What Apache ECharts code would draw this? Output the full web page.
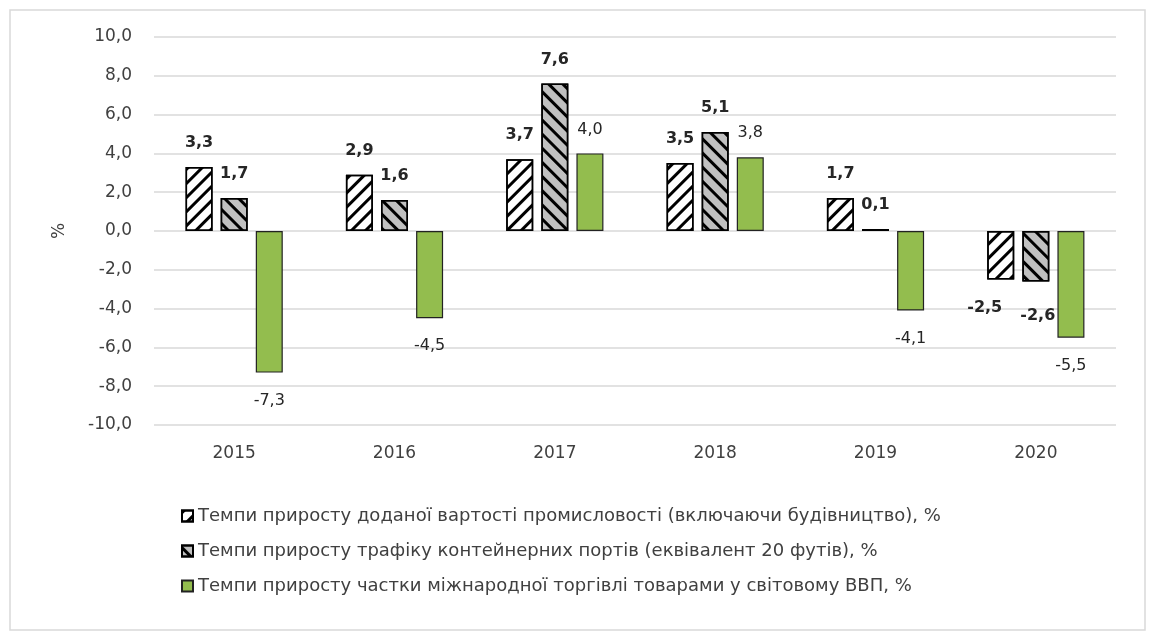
<!DOCTYPE html>
<html>
<head>
<meta charset="utf-8">
<script src="https://cdn.jsdelivr.net/npm/echarts@6/dist/echarts.min.js"></script>
<style>
  html, body { margin: 0; padding: 0; background: #fff; }
  #chart { width: 1150px; height: 634px; }
</style>
</head>
<body>
<div id="chart"></div>
<script>
const years = ["2015", "2016", "2017", "2018", "2019", "2020"];
const industryGrowth = [3.3, 2.9, 3.7, 3.5, 1.7, -2.5];
const portTraffic = [1.7, 1.6, 7.6, 5.1, 0.1, -2.6];
const tradeShare = [-7.3, -4.5, 4.0, 3.8, -4.1, -5.5];

const seriesNames = [
  "Темпи приросту доданої вартості промисловості (включаючи будівництво), %",
  "Темпи приросту трафіку контейнерних портів (еквівалент 20 футів), %",
  "Темпи приросту частки міжнародної торгівлі товарами у світовому ВВП, %",
];

const fontName = "DejaVu Sans";
const fmt = (v) => v.toFixed(1).replace(".", ",");

const chart = echarts.init(document.getElementById("chart"));

// підписи: зверху для додатних, знизу для від'ємних
// shift – зсув окремих підписів, щоб не накладались (як у вихідному графіку)
const withLabels = (arr, bold, shift) =>
  arr.map((v, i) => ({
    value: v,
    label: {
      show: true,
      position: v >= 0 ? "top" : "bottom",
      distance: v >= 0 ? 16 : 20,
      offset: (shift && shift[i]) || [0, 0],
      formatter: (p) => fmt(p.value),
      fontFamily: fontName,
      fontSize: 16,
      fontWeight: bold ? "bold" : "normal",
      color: "#262626",
    },
  }));

chart.setOption({
  animation: false,
  graphic: [
    {
      type: "rect",
      shape: { x: 10, y: 10, width: 1135, height: 620 },
      style: { fill: "none", stroke: "#d9d9d9", lineWidth: 1.5 },
      silent: true,
    },
  ],
  grid: {
    left: 154,
    right: 34,
    top: 37,
    bottom: 209,
  },
  legend: {
    orient: "vertical",
    left: 176,
    top: 502,
    itemGap: 17,
    itemWidth: 11,
    itemHeight: 11,
    icon: "rect",
    textStyle: {
      fontFamily: fontName,
      fontSize: 18,
      color: "#404040",
    },
    data: seriesNames,
  },
  xAxis: {
    type: "category",
    data: years,
    axisLine: { show: false },
    axisTick: { show: false },
    axisLabel: {
      margin: 20,
      fontFamily: fontName,
      fontSize: 17,
      color: "#404040",
    },
  },
  yAxis: {
    type: "value",
    name: "%",
    nameLocation: "middle",
    nameGap: 86,
    nameTextStyle: {
      fontFamily: fontName,
      fontSize: 17,
      color: "#404040",
    },
    min: -10,
    max: 10,
    interval: 2,
    axisLine: { show: false },
    axisTick: { show: false },
    axisLabel: {
      margin: 22,
      fontFamily: fontName,
      fontSize: 17,
      color: "#404040",
      formatter: (v) => fmt(v),
    },
    splitLine: {
      lineStyle: { color: "#d9d9d9", width: 1.5 },
    },
  },
  series: [
    {
      name: seriesNames[0],
      type: "bar",
      barWidth: 27,
      barGap: "30%",
      itemStyle: {
        color: "#ffffff",
        borderColor: "#000",
        borderWidth: 1.5,
        decal: {
          symbol: "rect",
          symbolSize: 1,
          color: "#000",
          dashArrayX: [1, 0],
          dashArrayY: [3, 6.5],
          rotation: -Math.PI / 4,
        },
      },
      data: withLabels(industryGrowth, true, { 5: [-16, 0] }),
    },
    {
      name: seriesNames[1],
      type: "bar",
      barWidth: 27,
      barGap: "30%",
      itemStyle: {
        color: "#c0c0c0",
        borderColor: "#000",
        borderWidth: 1.5,
        decal: {
          symbol: "rect",
          symbolSize: 1,
          color: "#000",
          dashArrayX: [1, 0],
          dashArrayY: [3, 6.5],
          rotation: Math.PI / 4,
        },
      },
      data: withLabels(portTraffic, true, { 5: [2, 6] }),
    },
    {
      name: seriesNames[2],
      type: "bar",
      barWidth: 27,
      barGap: "30%",
      itemStyle: {
        color: "#93bd4e",
        borderColor: "#222",
        borderWidth: 1.2,
      },
      data: withLabels(tradeShare, false),
    },
  ],
});
</script>
</body>
</html>
